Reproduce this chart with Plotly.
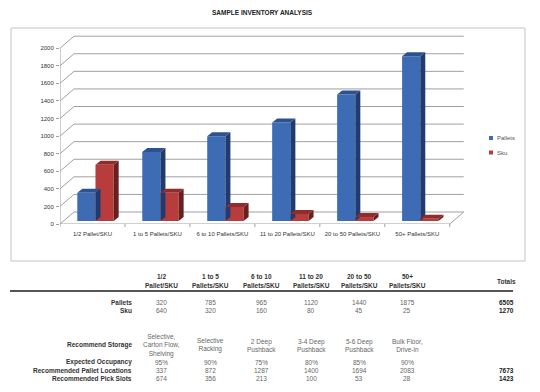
import plotly.graph_objects as go

# ---------------- data ----------------
categories = ["1/2 Pallet/SKU", "1 to 5 Pallets/SKU", "6 to 10 Pallets/SKU",
              "11 to 20 Pallets/SKU", "20 to 50 Pallets/SKU", "50+ Pallets/SKU"]
pallets = [320, 785, 965, 1120, 1440, 1875]
sku = [640, 320, 160, 80, 45, 25]
total_pallets = 6505
total_sku = 1270
storage = ["Selective,<br>Carton Flow,<br>Shelving", "Selective<br>Racking", "2 Deep<br>Pushback",
           "3-4 Deep<br>Pushback", "5-6 Deep<br>Pushback", "Bulk Floor,<br>Drive-in"]
occupancy = ["95%", "90%", "75%", "80%", "85%", "90%"]
pallet_locations = [337, 872, 1287, 1400, 1694, 2083]
pick_slots = [674, 356, 213, 100, 53, 28]
total_locations = 7673
total_pick_slots = 1423
y_ticks = list(range(0, 2001, 200))

# ---------------- geometry ----------------
OFF = 8  # page body margin
W, H = 540 - OFF, 392 - OFF
L, R, T, B = 60 - OFF, 74, 35 - OFF, 168
PW, PH = W - L - R, H - T - B
XR = [-0.5, 5.75]
YR = [0, 2150]
ux = PW / (XR[1] - XR[0])   # px per x unit
uy = PH / (YR[1] - YR[0])   # px per y unit


def px(x):
    return (x - OFF - L) / PW


def py(y):
    return (H - B - (y - OFF)) / PH


# wall depth and bar depth in data units
wdx, wdy = 14 / ux, 12 / uy
bdx, bdy = 5 / ux, 4 / uy
base_dx, base_dy = 3 / ux, 3 / uy
bw = 0.28

blue_front, blue_side, blue_top = "#3e6cb4", "#1f3b6f", "#2c528f"
red_front, red_side, red_top = "#b93c3c", "#6a1f1f", "#902c2c"
grid_c = "#a0a0a0"

fig = go.Figure()
shapes = []

# walls / gridlines
for v in y_ticks:
    shapes.append(dict(type="line", xref="x", yref="y", x0=XR[0], y0=v, x1=XR[0] + wdx, y1=v + wdy,
                       line=dict(color=grid_c, width=1), layer="below"))
    shapes.append(dict(type="line", xref="x", yref="y", x0=XR[0] + wdx, y0=v + wdy, x1=5.5 + wdx, y1=v + wdy,
                       line=dict(color=grid_c, width=1), layer="below"))
# floor
shapes.append(dict(type="line", xref="x", yref="y", x0=XR[0], y0=0, x1=5.5, y1=0,
                   line=dict(color=grid_c, width=1), layer="below"))
shapes.append(dict(type="line", xref="x", yref="y", x0=5.5, y0=0, x1=5.5 + wdx, y1=wdy,
                   line=dict(color=grid_c, width=1), layer="below"))
# y axis line
shapes.append(dict(type="line", xref="x", yref="y", x0=XR[0], y0=0, x1=XR[0], y1=2000,
                   line=dict(color=grid_c, width=1), layer="below"))
# category boundary ticks on floor
for k in range(7):
    shapes.append(dict(type="line", xref="x", yref="paper", x0=k - 0.5, y0=0, x1=k - 0.5, y1=-3 / PH,
                       line=dict(color=grid_c, width=1), layer="below"))


def add_series(vals, name, off, cf, cs, ct):
    xs = list(range(len(vals)))
    fig.add_trace(go.Bar(x=[x + base_dx for x in xs], y=vals, base=[base_dy] * len(vals),
                         width=bw, offset=off, marker=dict(color=cf, line=dict(width=0)),
                         name=name, showlegend=False))
    for x, v in zip(xs, vals):
        x0 = x + base_dx + off
        x1 = x0 + bw
        b0 = base_dy
        t0 = base_dy + v
        # side face
        fig.add_trace(go.Scatter(x=[x1, x1 + bdx, x1 + bdx, x1, x1],
                                 y=[b0, b0 + bdy, t0 + bdy, t0, b0],
                                 fill="toself", fillcolor=cs, mode="lines",
                                 line=dict(width=0, color=cs), showlegend=False, hoverinfo="skip"))
        # top face
        fig.add_trace(go.Scatter(x=[x0, x0 + bdx, x1 + bdx, x1, x0],
                                 y=[t0, t0 + bdy, t0 + bdy, t0, t0],
                                 fill="toself", fillcolor=ct, mode="lines",
                                 line=dict(width=0, color=ct), showlegend=False, hoverinfo="skip"))


add_series(pallets, "Pallets", -bw, blue_front, blue_side, blue_top)
add_series(sku, "Sku", 0.0, red_front, red_side, red_top)

# chart box border
shapes.append(dict(type="rect", xref="paper", yref="paper", x0=px(11), y0=py(261), x1=px(525), y1=py(28),
                   line=dict(color="#c4c4c4", width=1), layer="below"))
# table separator
shapes.append(dict(type="line", xref="paper", yref="paper", x0=px(10), y0=py(291), x1=px(513), y1=py(291),
                   line=dict(color="#555555", width=2)))
# legend swatches
shapes.append(dict(type="rect", xref="paper", yref="paper", x0=px(489), y0=py(140), x1=px(493), y1=py(136),
                   fillcolor=blue_front, line=dict(width=0)))
shapes.append(dict(type="rect", xref="paper", yref="paper", x0=px(489), y0=py(154.5), x1=px(493), y1=py(150.5),
                   fillcolor=red_front, line=dict(width=0)))

FONT = "Liberation Sans, Arial, sans-serif"
anns = []


def txt(x, y, s, size=6.5, color="#666666", bold=False, xanchor="center", yanchor="middle"):
    if bold:
        s = "<b>" + s + "</b>"
    anns.append(dict(xref="paper", yref="paper", x=px(x), y=py(y), text=s, showarrow=False,
                     xanchor=xanchor, yanchor=yanchor, align="center",
                     font=dict(family=FONT, size=size, color=color)))


txt(262, 13, "SAMPLE INVENTORY ANALYSIS", size=6.5, color="#222222", bold=True)
txt(495, 138, "Pallets", size=6, color="#555555", xanchor="left")
txt(495, 152.5, "Sku", size=6, color="#555555", xanchor="left")

col_x = [161, 210, 261, 311, 359, 407]
for cx, cat in zip(col_x, categories):
    head, tail = cat.rsplit(" ", 1)
    txt(cx, 276, head, color="#333333", bold=True)
    txt(cx, 285, tail, color="#333333", bold=True)
txt(506, 281, "Totals", color="#333333", bold=True)

lab_x = 134
tot_x = 516
txt(lab_x, 302, "Pallets", color="#333333", bold=True, xanchor="right")
txt(lab_x, 310, "Sku", color="#333333", bold=True, xanchor="right")
for cx, p, s in zip(col_x, pallets, sku):
    txt(cx, 302, str(p))
    txt(cx, 310, str(s))
txt(tot_x, 302, str(total_pallets), color="#222222", bold=True, xanchor="right")
txt(tot_x, 310, str(total_sku), color="#222222", bold=True, xanchor="right")

txt(lab_x, 345, "Recommend Storage", color="#333333", bold=True, xanchor="right")
txt(lab_x, 362, "Expected Occupancy", color="#333333", bold=True, xanchor="right")
txt(lab_x, 370, "Recommended Pallet Locations", color="#333333", bold=True, xanchor="right")
txt(lab_x, 378, "Recommended Pick Slots", color="#333333", bold=True, xanchor="right")
for cx, st, oc, pl, ps in zip(col_x, storage, occupancy, pallet_locations, pick_slots):
    txt(cx, 345, st)
    txt(cx, 362, oc)
    txt(cx, 370, str(pl))
    txt(cx, 378, str(ps))
txt(tot_x, 370, str(total_locations), color="#222222", bold=True, xanchor="right")
txt(tot_x, 378, str(total_pick_slots), color="#222222", bold=True, xanchor="right")

fig.update_layout(
    width=W, height=H,
    margin=dict(l=L, r=R, t=T, b=B, pad=0),
    paper_bgcolor="white", plot_bgcolor="rgba(0,0,0,0)",
    barmode="overlay", showlegend=False,
    shapes=shapes, annotations=anns,
    font=dict(family=FONT, size=6, color="#333333"),
    xaxis=dict(range=XR, showgrid=False, zeroline=False, showline=False,
               tickvals=list(range(len(categories))), ticktext=categories,
               ticks="", tickfont=dict(size=6, color="#333333"), ticklabelstandoff=5),
    yaxis=dict(range=YR, showgrid=False, zeroline=False, showline=False,
               tickvals=y_ticks, ticks="outside", ticklen=3, tickcolor=grid_c,
               tickfont=dict(size=6, color="#333333"), ticklabelstandoff=1),
)

fig.write_html("out.html")
